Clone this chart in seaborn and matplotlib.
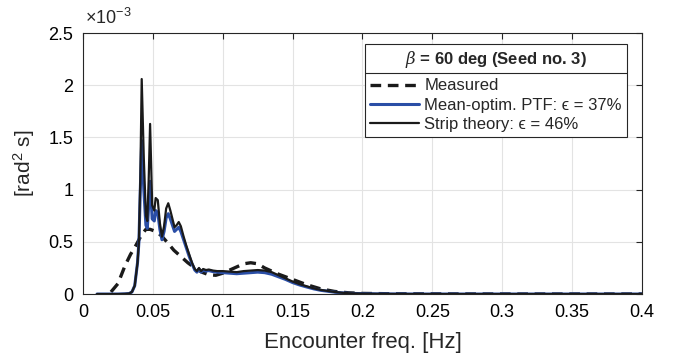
import numpy as np
import matplotlib
matplotlib.use("Agg")
import matplotlib.pyplot as plt
import seaborn as sns
from matplotlib.ticker import FuncFormatter, MultipleLocator
from matplotlib.lines import Line2D

# Data (PSD values in units of 1e-3 rad^2 s)
freq_meas = [0.020, 0.025, 0.030, 0.034, 0.038, 0.042, 0.045, 0.048, 0.052, 0.056,
             0.060, 0.065, 0.070, 0.075, 0.080, 0.085, 0.090, 0.095, 0.100, 0.105,
             0.110, 0.115, 0.120, 0.125, 0.130, 0.135, 0.140, 0.150, 0.160, 0.170,
             0.180, 0.190, 0.200, 0.220, 0.250, 0.300, 0.350, 0.400]
psd_meas = [0.02, 0.10, 0.27, 0.38, 0.47, 0.57, 0.62, 0.62, 0.60, 0.56,
            0.50, 0.42, 0.36, 0.30, 0.25, 0.21, 0.185, 0.18, 0.20, 0.23,
            0.26, 0.29, 0.30, 0.29, 0.25, 0.22, 0.19, 0.14, 0.09, 0.05,
            0.025, 0.012, 0.006, 0.003, 0.002, 0.001, 0.001, 0.001]

freq_calc = [0.010, 0.015, 0.020, 0.025, 0.030, 0.033, 0.035, 0.037, 0.039, 0.040,
             0.041, 0.042, 0.0435, 0.045, 0.046, 0.047, 0.048, 0.0495, 0.051, 0.052,
             0.0535, 0.055, 0.0565, 0.058, 0.0595, 0.061, 0.0625, 0.064, 0.0655, 0.067,
             0.0685, 0.070, 0.072, 0.074, 0.076, 0.078, 0.080, 0.0815, 0.083, 0.0845,
             0.086, 0.088, 0.090, 0.093, 0.096, 0.100, 0.105, 0.110, 0.115, 0.120,
             0.125, 0.130, 0.135, 0.140, 0.145, 0.150, 0.155, 0.160, 0.165, 0.170,
             0.175, 0.180, 0.185, 0.190, 0.200, 0.210, 0.220, 0.240, 0.260, 0.300,
             0.350, 0.400]
psd_strip = [0.0, 0.0, 0.0, 0.0, 0.002, 0.005, 0.02, 0.08, 0.30, 0.50,
             1.10, 2.06, 1.30, 0.75, 0.70, 1.10, 1.63, 0.85, 0.80, 0.92,
             0.90, 0.68, 0.55, 0.65, 0.82, 0.87, 0.80, 0.72, 0.64, 0.66,
             0.69, 0.65, 0.55, 0.46, 0.38, 0.30, 0.24, 0.22, 0.25, 0.22,
             0.24, 0.23, 0.235, 0.225, 0.22, 0.22, 0.215, 0.21, 0.22, 0.225,
             0.23, 0.225, 0.21, 0.18, 0.15, 0.12, 0.095, 0.075, 0.055, 0.04,
             0.03, 0.02, 0.013, 0.008, 0.004, 0.002, 0.001, 0.0, 0.0, 0.0,
             0.0, 0.0]
psd_ptf = [0.0, 0.0, 0.0, 0.0, 0.002, 0.005, 0.02, 0.08, 0.30, 0.50,
           1.00, 1.47, 1.00, 0.66, 0.63, 0.85, 1.08, 0.72, 0.70, 0.80,
           0.78, 0.62, 0.52, 0.60, 0.73, 0.77, 0.72, 0.66, 0.60, 0.62,
           0.64, 0.60, 0.52, 0.44, 0.36, 0.29, 0.23, 0.21, 0.24, 0.21,
           0.23, 0.22, 0.225, 0.215, 0.21, 0.205, 0.20, 0.195, 0.20, 0.205,
           0.21, 0.205, 0.19, 0.165, 0.14, 0.11, 0.087, 0.068, 0.05, 0.036,
           0.027, 0.018, 0.012, 0.007, 0.004, 0.002, 0.001, 0.0, 0.0, 0.0,
           0.0, 0.0]

sns.set_style("white")
plt.rcParams['font.family'] = ['Liberation Sans', 'DejaVu Sans']
plt.rcParams['mathtext.fontset'] = 'custom'
plt.rcParams['mathtext.it'] = 'DejaVu Serif:italic'
plt.rcParams['mathtext.rm'] = 'Liberation Sans'

fig = plt.figure(figsize=(6.75, 3.56), dpi=100)
ax = fig.add_axes([0.123, 0.174, 0.828, 0.733])

scale = 1e-3
sns.lineplot(x=freq_meas, y=np.array(psd_meas) * scale, ax=ax, color='#1a1a1a',
             lw=2.4, linestyle='--', dashes=False, label='Measured')
ax.lines[-1].set_dashes((3.2, 2.0))
sns.lineplot(x=freq_calc, y=np.array(psd_ptf) * scale, ax=ax, color='#2a4ea6',
             lw=2.2, label='Mean-optim. PTF: \u03f5 = 37%')
sns.lineplot(x=freq_calc, y=np.array(psd_strip) * scale, ax=ax, color='#1a1a1a',
             lw=1.6, label='Strip theory: \u03f5 = 46%')

ax.set_xlim(0, 0.4)
ax.set_ylim(0, 2.5e-3)
ax.xaxis.set_major_locator(MultipleLocator(0.05))
ax.yaxis.set_major_locator(MultipleLocator(0.5e-3))
ax.xaxis.set_major_formatter(FuncFormatter(lambda v, p: f"{v:g}"))
ax.yaxis.set_major_formatter(FuncFormatter(lambda v, p: f"{v * 1e3:g}"))
ax.grid(True, color='#e3e3e3', lw=0.8)
ax.set_axisbelow(True)
for s in ax.spines.values():
    s.set_color('#262626')
    s.set_linewidth(0.8)
ax.tick_params(direction='in', length=4, width=0.8, colors='#262626',
               top=True, right=True, labelsize=13, pad=7)
for lab in ax.get_xticklabels() + ax.get_yticklabels():
    lab.set_color('#000000')

ax.set_xlabel('Encounter freq. [Hz]', fontsize=16, labelpad=8)
ax.set_ylabel(r'[rad$^2$ s]', fontsize=15, labelpad=8)
ax.text(0.003, 1.02, r'$\times$10$^{-3}$', transform=ax.transAxes, fontsize=13,
        ha='left', va='bottom')

leg = ax.legend(loc='upper right', bbox_to_anchor=(0.973, 0.958), borderaxespad=0,
                fontsize=12, title=r'$\beta$ = 60 deg (Seed no. 3)',
                title_fontproperties={'weight': 'bold', 'size': 12},
                fancybox=False, framealpha=1, edgecolor='#262626',
                handlelength=2.9, handletextpad=0.35, labelspacing=0.25,
                borderpad=0.3)
leg.get_frame().set_linewidth(0.8)
leg._legend_box.sep = 6

fig.canvas.draw()
fb = leg.get_frame().get_window_extent()
tb = leg.get_title().get_window_extent()
inv = fig.transFigure.inverted()
y_sep = tb.y0 - 3
(x0, ys), (x1, _) = inv.transform([(fb.x0, y_sep), (fb.x1, y_sep)])
fig.add_artist(Line2D([x0, x1], [ys, ys], transform=fig.transFigure,
                      color='#262626', lw=0.8))

fig.savefig('out.png', dpi=100)
